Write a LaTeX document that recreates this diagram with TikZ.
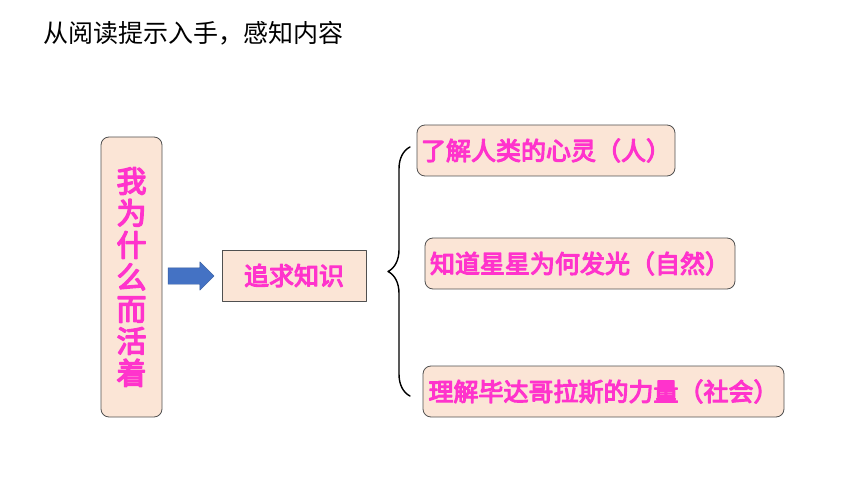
\documentclass[tikz,border=0pt]{standalone}
\usepackage{fontspec}
\newfontfamily\cjk{Noto Sans CJK SC}
\newfontfamily\cjkbold{Noto Sans CJK SC}[FakeBold=4.5]
\usetikzlibrary{decorations.pathreplacing,shapes.arrows}

\definecolor{peach}{HTML}{FBE5D6}
\definecolor{rim}{HTML}{505050}
\definecolor{rose}{HTML}{FF33CC}
\definecolor{steel}{HTML}{4472C4}

\begin{document}
\begin{tikzpicture}[x=1pt, y=-1pt, line cap=round, line join=round,
	box/.style={draw=rim, fill=peach, line width=0.8pt, inner sep=0pt, minimum height=51pt,
		font=\cjkbold\fontsize{25}{27}\selectfont, text=rose},
	roundbox/.style={box, rounded corners=8pt}]
	
	\useasboundingbox (0,0) rectangle (860,484);
	
	% --- heading ---
	\node[anchor=west, font=\cjk\fontsize{25}{27}\selectfont, inner sep=0pt] (head) at (43,33) {从阅读提示入手，感知内容};
	
	% --- left: the question, set upright in a column ---
	\node[roundbox, minimum width=61pt, minimum height=280pt, align=center,
		font=\cjkbold\fontsize{30}{32}\selectfont] (why) at (131.5,277)
		{我\\为\\什\\么\\而\\活\\着};
	
	% --- block arrow ---
	\node[single arrow, fill=steel, draw=steel!80!black, line width=0.4pt, inner sep=8pt,
		minimum height=46pt, single arrow head extend=6pt] (go) at (187,276) {};
	
	% --- middle: the answer ---
	\node[box, minimum width=144pt] (know) at (294,275.5) {追求知识};
	
	% --- right: three aims ---
	\node[roundbox, minimum width=258pt] (aim1) at (546,150.5) {了解人类的心灵（人）};
	\node[roundbox, minimum width=310pt] (aim2) at (580,263.5) {知道星星为何发光（自然）};
	\node[roundbox, minimum width=361pt] (aim3) at (603.5,391.5) {理解毕达哥拉斯的力量（社会）};
	
	% --- brace gathering the aims ---
	\coordinate (btop) at (410,147);
	\coordinate (bbot) at (410,396);
	\draw[line width=1.4pt, decorate, decoration={brace, amplitude=22pt}] (bbot) -- (btop);
	
\end{tikzpicture}
\end{document}
